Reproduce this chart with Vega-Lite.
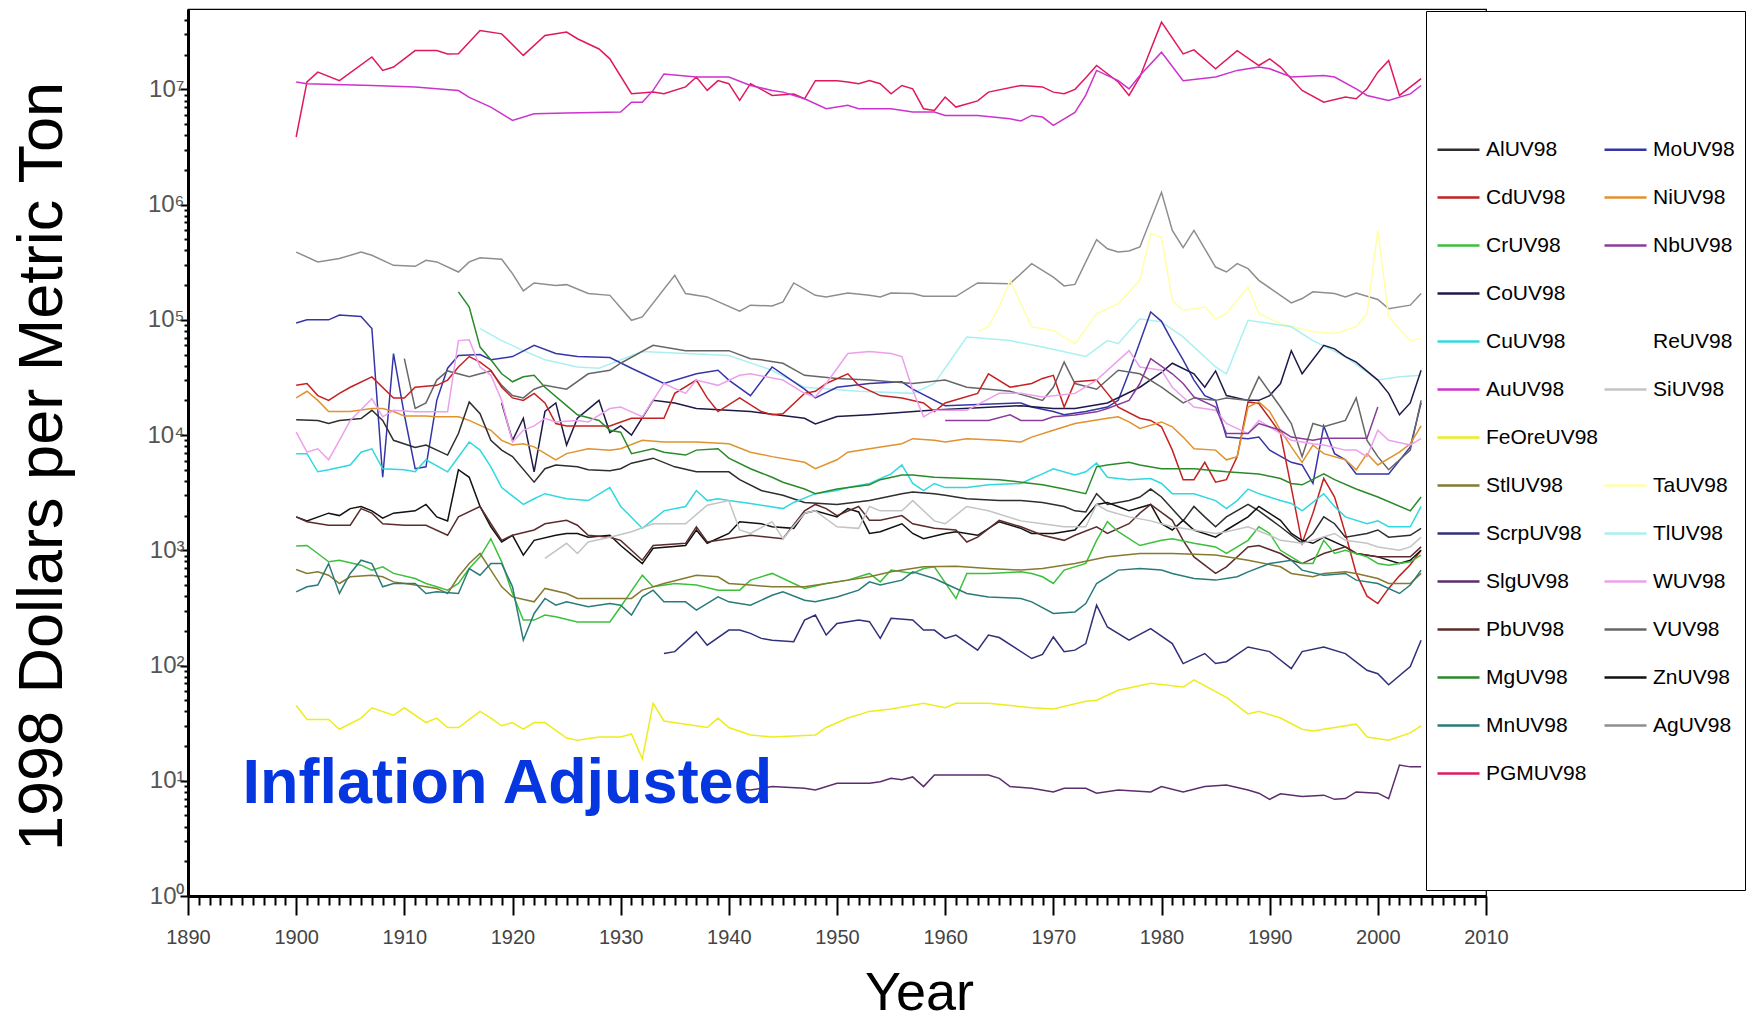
{
"$schema":"https://vega.github.io/schema/vega-lite/v6.json",
"width":1298,"height":887,"autosize":"none",
"padding":{"left":188,"top":9,"right":264,"bottom":126},
"background":"white",
"config":{"font":"Liberation Sans","view":{"stroke":"black","strokeWidth":1.2}},
"layer":[
{"data":{"values":[
{"s":"PGMUV98","yr":1900,"v":3.86e6},{"s":"PGMUV98","yr":1901,"v":1.16e7},{"s":"PGMUV98","yr":1902,"v":1.41e7},{"s":"PGMUV98","yr":1904,"v":1.19e7},{"s":"PGMUV98","yr":1907,"v":1.91e7},{"s":"PGMUV98","yr":1908,"v":1.46e7},{"s":"PGMUV98","yr":1909,"v":1.56e7},{"s":"PGMUV98","yr":1911,"v":2.17e7},{"s":"PGMUV98","yr":1913,"v":2.17e7},{"s":"PGMUV98","yr":1914,"v":2.03e7},{"s":"PGMUV98","yr":1915,"v":2.04e7},{"s":"PGMUV98","yr":1917,"v":3.24e7},{"s":"PGMUV98","yr":1919,"v":3.03e7},{"s":"PGMUV98","yr":1921,"v":1.97e7},{"s":"PGMUV98","yr":1923,"v":2.93e7},{"s":"PGMUV98","yr":1925,"v":3.14e7},{"s":"PGMUV98","yr":1926,"v":2.75e7},{"s":"PGMUV98","yr":1928,"v":2.24e7},{"s":"PGMUV98","yr":1929,"v":1.84e7},{"s":"PGMUV98","yr":1931,"v":9.16e6},{"s":"PGMUV98","yr":1933,"v":9.46e6},{"s":"PGMUV98","yr":1934,"v":9.16e6},{"s":"PGMUV98","yr":1936,"v":1.05e7},{"s":"PGMUV98","yr":1937,"v":1.28e7},{"s":"PGMUV98","yr":1938,"v":9.79e6},{"s":"PGMUV98","yr":1939,"v":1.19e7},{"s":"PGMUV98","yr":1940,"v":1.12e7},{"s":"PGMUV98","yr":1941,"v":8.02e6},{"s":"PGMUV98","yr":1942,"v":1.12e7},{"s":"PGMUV98","yr":1943,"v":1.0e7},{"s":"PGMUV98","yr":1944,"v":8.85e6},{"s":"PGMUV98","yr":1946,"v":9.12e6},{"s":"PGMUV98","yr":1947,"v":8.28e6},{"s":"PGMUV98","yr":1948,"v":1.19e7},{"s":"PGMUV98","yr":1950,"v":1.19e7},{"s":"PGMUV98","yr":1951,"v":1.16e7},{"s":"PGMUV98","yr":1952,"v":1.12e7},{"s":"PGMUV98","yr":1953,"v":1.19e7},{"s":"PGMUV98","yr":1954,"v":1.12e7},{"s":"PGMUV98","yr":1955,"v":9.16e6},{"s":"PGMUV98","yr":1956,"v":1.08e7},{"s":"PGMUV98","yr":1957,"v":1.01e7},{"s":"PGMUV98","yr":1958,"v":6.79e6},{"s":"PGMUV98","yr":1959,"v":6.56e6},{"s":"PGMUV98","yr":1960,"v":8.57e6},{"s":"PGMUV98","yr":1961,"v":7.02e6},{"s":"PGMUV98","yr":1963,"v":7.94e6},{"s":"PGMUV98","yr":1964,"v":9.46e6},{"s":"PGMUV98","yr":1967,"v":1.08e7},{"s":"PGMUV98","yr":1969,"v":1.05e7},{"s":"PGMUV98","yr":1970,"v":9.46e6},{"s":"PGMUV98","yr":1971,"v":9.16e6},{"s":"PGMUV98","yr":1972,"v":1.0e7},{"s":"PGMUV98","yr":1973,"v":1.26e7},{"s":"PGMUV98","yr":1974,"v":1.61e7},{"s":"PGMUV98","yr":1976,"v":1.16e7},{"s":"PGMUV98","yr":1977,"v":8.85e6},{"s":"PGMUV98","yr":1978,"v":1.28e7},{"s":"PGMUV98","yr":1980,"v":3.83e7},{"s":"PGMUV98","yr":1982,"v":2.03e7},{"s":"PGMUV98","yr":1983,"v":2.2e7},{"s":"PGMUV98","yr":1985,"v":1.51e7},{"s":"PGMUV98","yr":1987,"v":2.17e7},{"s":"PGMUV98","yr":1989,"v":1.61e7},{"s":"PGMUV98","yr":1990,"v":1.84e7},{"s":"PGMUV98","yr":1991,"v":1.56e7},{"s":"PGMUV98","yr":1993,"v":9.77e6},{"s":"PGMUV98","yr":1995,"v":7.74e6},{"s":"PGMUV98","yr":1997,"v":8.57e6},{"s":"PGMUV98","yr":1998,"v":8.28e6},{"s":"PGMUV98","yr":1999,"v":1.01e7},{"s":"PGMUV98","yr":2000,"v":1.41e7},{"s":"PGMUV98","yr":2001,"v":1.78e7},{"s":"PGMUV98","yr":2002,"v":8.85e6},{"s":"PGMUV98","yr":2004,"v":1.24e7},
{"s":"AuUV98","yr":1900,"v":1.16e7},{"s":"AuUV98","yr":1901,"v":1.12e7},{"s":"AuUV98","yr":1907,"v":1.08e7},{"s":"AuUV98","yr":1911,"v":1.05e7},{"s":"AuUV98","yr":1915,"v":9.77e6},{"s":"AuUV98","yr":1916,"v":8.51e6},{"s":"AuUV98","yr":1918,"v":7.02e6},{"s":"AuUV98","yr":1920,"v":5.37e6},{"s":"AuUV98","yr":1922,"v":6.14e6},{"s":"AuUV98","yr":1925,"v":6.22e6},{"s":"AuUV98","yr":1930,"v":6.35e6},{"s":"AuUV98","yr":1931,"v":7.74e6},{"s":"AuUV98","yr":1932,"v":7.74e6},{"s":"AuUV98","yr":1933,"v":9.79e6},{"s":"AuUV98","yr":1934,"v":1.36e7},{"s":"AuUV98","yr":1937,"v":1.28e7},{"s":"AuUV98","yr":1940,"v":1.28e7},{"s":"AuUV98","yr":1942,"v":1.08e7},{"s":"AuUV98","yr":1944,"v":9.79e6},{"s":"AuUV98","yr":1945,"v":9.46e6},{"s":"AuUV98","yr":1947,"v":8.28e6},{"s":"AuUV98","yr":1949,"v":6.79e6},{"s":"AuUV98","yr":1951,"v":7.26e6},{"s":"AuUV98","yr":1952,"v":6.79e6},{"s":"AuUV98","yr":1955,"v":6.79e6},{"s":"AuUV98","yr":1957,"v":6.35e6},{"s":"AuUV98","yr":1959,"v":6.35e6},{"s":"AuUV98","yr":1960,"v":5.94e6},{"s":"AuUV98","yr":1963,"v":5.94e6},{"s":"AuUV98","yr":1966,"v":5.56e6},{"s":"AuUV98","yr":1967,"v":5.31e6},{"s":"AuUV98","yr":1968,"v":5.94e6},{"s":"AuUV98","yr":1969,"v":5.75e6},{"s":"AuUV98","yr":1970,"v":4.86e6},{"s":"AuUV98","yr":1972,"v":6.31e6},{"s":"AuUV98","yr":1973,"v":8.91e6},{"s":"AuUV98","yr":1974,"v":1.46e7},{"s":"AuUV98","yr":1976,"v":1.19e7},{"s":"AuUV98","yr":1977,"v":1.01e7},{"s":"AuUV98","yr":1978,"v":1.32e7},{"s":"AuUV98","yr":1980,"v":2.1e7},{"s":"AuUV98","yr":1982,"v":1.19e7},{"s":"AuUV98","yr":1985,"v":1.28e7},{"s":"AuUV98","yr":1987,"v":1.46e7},{"s":"AuUV98","yr":1989,"v":1.56e7},{"s":"AuUV98","yr":1990,"v":1.51e7},{"s":"AuUV98","yr":1992,"v":1.28e7},{"s":"AuUV98","yr":1995,"v":1.32e7},{"s":"AuUV98","yr":1996,"v":1.28e7},{"s":"AuUV98","yr":1998,"v":1.01e7},{"s":"AuUV98","yr":1999,"v":8.85e6},{"s":"AuUV98","yr":2001,"v":8.02e6},{"s":"AuUV98","yr":2003,"v":9.14e6},{"s":"AuUV98","yr":2004,"v":1.08e7},
{"s":"AgUV98","yr":1900,"v":3.87e5},{"s":"AgUV98","yr":1902,"v":3.18e5},{"s":"AgUV98","yr":1904,"v":3.4e5},{"s":"AgUV98","yr":1906,"v":3.87e5},{"s":"AgUV98","yr":1907,"v":3.63e5},{"s":"AgUV98","yr":1909,"v":2.97e5},{"s":"AgUV98","yr":1911,"v":2.91e5},{"s":"AgUV98","yr":1912,"v":3.28e5},{"s":"AgUV98","yr":1913,"v":3.18e5},{"s":"AgUV98","yr":1915,"v":2.6e5},{"s":"AgUV98","yr":1916,"v":3.18e5},{"s":"AgUV98","yr":1917,"v":3.46e5},{"s":"AgUV98","yr":1919,"v":3.35e5},{"s":"AgUV98","yr":1920,"v":2.52e5},{"s":"AgUV98","yr":1921,"v":1.78e5},{"s":"AgUV98","yr":1922,"v":2.09e5},{"s":"AgUV98","yr":1924,"v":1.99e5},{"s":"AgUV98","yr":1925,"v":2.02e5},{"s":"AgUV98","yr":1927,"v":1.69e5},{"s":"AgUV98","yr":1929,"v":1.63e5},{"s":"AgUV98","yr":1931,"v":9.9e4},{"s":"AgUV98","yr":1932,"v":1.06e5},{"s":"AgUV98","yr":1935,"v":2.43e5},{"s":"AgUV98","yr":1936,"v":1.69e5},{"s":"AgUV98","yr":1938,"v":1.58e5},{"s":"AgUV98","yr":1941,"v":1.19e5},{"s":"AgUV98","yr":1942,"v":1.34e5},{"s":"AgUV98","yr":1944,"v":1.32e5},{"s":"AgUV98","yr":1945,"v":1.43e5},{"s":"AgUV98","yr":1946,"v":2.09e5},{"s":"AgUV98","yr":1948,"v":1.63e5},{"s":"AgUV98","yr":1949,"v":1.58e5},{"s":"AgUV98","yr":1951,"v":1.71e5},{"s":"AgUV98","yr":1953,"v":1.63e5},{"s":"AgUV98","yr":1954,"v":1.58e5},{"s":"AgUV98","yr":1955,"v":1.71e5},{"s":"AgUV98","yr":1957,"v":1.69e5},{"s":"AgUV98","yr":1958,"v":1.6e5},{"s":"AgUV98","yr":1961,"v":1.6e5},{"s":"AgUV98","yr":1963,"v":2.09e5},{"s":"AgUV98","yr":1966,"v":2.06e5},{"s":"AgUV98","yr":1968,"v":3.07e5},{"s":"AgUV98","yr":1970,"v":2.35e5},{"s":"AgUV98","yr":1971,"v":1.97e5},{"s":"AgUV98","yr":1972,"v":2.03e5},{"s":"AgUV98","yr":1974,"v":4.97e5},{"s":"AgUV98","yr":1975,"v":4.14e5},{"s":"AgUV98","yr":1976,"v":3.88e5},{"s":"AgUV98","yr":1977,"v":3.95e5},{"s":"AgUV98","yr":1978,"v":4.29e5},{"s":"AgUV98","yr":1980,"v":1.28e6},{"s":"AgUV98","yr":1981,"v":5.97e5},{"s":"AgUV98","yr":1982,"v":4.23e5},{"s":"AgUV98","yr":1983,"v":5.97e5},{"s":"AgUV98","yr":1985,"v":2.87e5},{"s":"AgUV98","yr":1986,"v":2.6e5},{"s":"AgUV98","yr":1987,"v":3.07e5},{"s":"AgUV98","yr":1988,"v":2.78e5},{"s":"AgUV98","yr":1989,"v":2.2e5},{"s":"AgUV98","yr":1992,"v":1.4e5},{"s":"AgUV98","yr":1993,"v":1.53e5},{"s":"AgUV98","yr":1994,"v":1.75e5},{"s":"AgUV98","yr":1996,"v":1.69e5},{"s":"AgUV98","yr":1997,"v":1.58e5},{"s":"AgUV98","yr":1998,"v":1.71e5},{"s":"AgUV98","yr":2000,"v":1.5e5},{"s":"AgUV98","yr":2001,"v":1.25e5},{"s":"AgUV98","yr":2003,"v":1.34e5},{"s":"AgUV98","yr":2004,"v":1.69e5},
{"s":"TaUV98","yr":1963,"v":7.9e4},{"s":"TaUV98","yr":1964,"v":8.7e4},{"s":"TaUV98","yr":1965,"v":1.3e5},{"s":"TaUV98","yr":1966,"v":2.2e5},{"s":"TaUV98","yr":1968,"v":8.7e4},{"s":"TaUV98","yr":1970,"v":8.1e4},{"s":"TaUV98","yr":1972,"v":6.2e4},{"s":"TaUV98","yr":1974,"v":1.13e5},{"s":"TaUV98","yr":1976,"v":1.38e5},{"s":"TaUV98","yr":1978,"v":2.2e5},{"s":"TaUV98","yr":1979,"v":5.6e5},{"s":"TaUV98","yr":1980,"v":5.2e5},{"s":"TaUV98","yr":1981,"v":1.48e5},{"s":"TaUV98","yr":1982,"v":1.21e5},{"s":"TaUV98","yr":1984,"v":1.29e5},{"s":"TaUV98","yr":1985,"v":1.02e5},{"s":"TaUV98","yr":1986,"v":1.13e5},{"s":"TaUV98","yr":1987,"v":1.48e5},{"s":"TaUV98","yr":1988,"v":1.93e5},{"s":"TaUV98","yr":1989,"v":1.13e5},{"s":"TaUV98","yr":1991,"v":9.3e4},{"s":"TaUV98","yr":1994,"v":7.9e4},{"s":"TaUV98","yr":1996,"v":7.6e4},{"s":"TaUV98","yr":1998,"v":8.7e4},{"s":"TaUV98","yr":1999,"v":1.13e5},{"s":"TaUV98","yr":2000,"v":6.0e5},{"s":"TaUV98","yr":2001,"v":1.06e5},{"s":"TaUV98","yr":2003,"v":6.6e4},{"s":"TaUV98","yr":2004,"v":6.9e4},
{"s":"TlUV98","yr":1917,"v":8.4e4},{"s":"TlUV98","yr":1919,"v":6.6e4},{"s":"TlUV98","yr":1921,"v":5.4e4},{"s":"TlUV98","yr":1923,"v":4.5e4},{"s":"TlUV98","yr":1926,"v":3.9e4},{"s":"TlUV98","yr":1928,"v":3.8e4},{"s":"TlUV98","yr":1932,"v":5.3e4},{"s":"TlUV98","yr":1940,"v":4.9e4},{"s":"TlUV98","yr":1944,"v":3.65e4},{"s":"TlUV98","yr":1947,"v":2.6e4},{"s":"TlUV98","yr":1952,"v":2.4e4},{"s":"TlUV98","yr":1957,"v":2.3e4},{"s":"TlUV98","yr":1959,"v":2.8e4},{"s":"TlUV98","yr":1962,"v":7.1e4},{"s":"TlUV98","yr":1966,"v":6.6e4},{"s":"TlUV98","yr":1969,"v":5.8e4},{"s":"TlUV98","yr":1973,"v":4.8e4},{"s":"TlUV98","yr":1975,"v":6.6e4},{"s":"TlUV98","yr":1976,"v":6.2e4},{"s":"TlUV98","yr":1978,"v":1.02e5},{"s":"TlUV98","yr":1980,"v":9.6e4},{"s":"TlUV98","yr":1982,"v":7.1e4},{"s":"TlUV98","yr":1985,"v":3.9e4},{"s":"TlUV98","yr":1986,"v":3.4e4},{"s":"TlUV98","yr":1988,"v":9.9e4},{"s":"TlUV98","yr":1990,"v":9.3e4},{"s":"TlUV98","yr":1992,"v":8.7e4},{"s":"TlUV98","yr":1994,"v":6.6e4},{"s":"TlUV98","yr":1997,"v":4.8e4},{"s":"TlUV98","yr":2000,"v":3.0e4},{"s":"TlUV98","yr":2002,"v":3.2e4},{"s":"TlUV98","yr":2004,"v":3.3e4},
{"s":"MoUV98","yr":1900,"v":9.4e4},{"s":"MoUV98","yr":1901,"v":1.0e5},{"s":"MoUV98","yr":1903,"v":1.0e5},{"s":"MoUV98","yr":1904,"v":1.1e5},{"s":"MoUV98","yr":1906,"v":1.07e5},{"s":"MoUV98","yr":1907,"v":8.4e4},{"s":"MoUV98","yr":1908,"v":4.3e3},{"s":"MoUV98","yr":1909,"v":5.1e4},{"s":"MoUV98","yr":1910,"v":1.5e4},{"s":"MoUV98","yr":1911,"v":5.1e3},{"s":"MoUV98","yr":1912,"v":5.3e3},{"s":"MoUV98","yr":1913,"v":2.0e4},{"s":"MoUV98","yr":1914,"v":3.8e4},{"s":"MoUV98","yr":1915,"v":4.9e4},{"s":"MoUV98","yr":1917,"v":5.0e4},{"s":"MoUV98","yr":1918,"v":4.5e4},{"s":"MoUV98","yr":1920,"v":4.8e4},{"s":"MoUV98","yr":1922,"v":6.0e4},{"s":"MoUV98","yr":1924,"v":5.1e4},{"s":"MoUV98","yr":1926,"v":4.8e4},{"s":"MoUV98","yr":1929,"v":4.7e4},{"s":"MoUV98","yr":1931,"v":3.8e4},{"s":"MoUV98","yr":1934,"v":2.8e4},{"s":"MoUV98","yr":1937,"v":3.4e4},{"s":"MoUV98","yr":1939,"v":3.65e4},{"s":"MoUV98","yr":1940,"v":3.0e4},{"s":"MoUV98","yr":1942,"v":2.2e4},{"s":"MoUV98","yr":1944,"v":3.9e4},{"s":"MoUV98","yr":1947,"v":2.5e4},{"s":"MoUV98","yr":1948,"v":2.1e4},{"s":"MoUV98","yr":1950,"v":2.6e4},{"s":"MoUV98","yr":1953,"v":2.8e4},{"s":"MoUV98","yr":1956,"v":2.9e4},{"s":"MoUV98","yr":1957,"v":2.5e4},{"s":"MoUV98","yr":1960,"v":1.8e4},{"s":"MoUV98","yr":1967,"v":1.9e4},{"s":"MoUV98","yr":1968,"v":1.75e4},{"s":"MoUV98","yr":1970,"v":1.6e4},{"s":"MoUV98","yr":1971,"v":1.5e4},{"s":"MoUV98","yr":1973,"v":1.6e4},{"s":"MoUV98","yr":1975,"v":1.75e4},{"s":"MoUV98","yr":1976,"v":2.0e4},{"s":"MoUV98","yr":1977,"v":3.5e4},{"s":"MoUV98","yr":1979,"v":1.17e5},{"s":"MoUV98","yr":1980,"v":9.7e4},{"s":"MoUV98","yr":1981,"v":6.5e4},{"s":"MoUV98","yr":1982,"v":4.5e4},{"s":"MoUV98","yr":1983,"v":3.0e4},{"s":"MoUV98","yr":1984,"v":2.2e4},{"s":"MoUV98","yr":1985,"v":2.0e4},{"s":"MoUV98","yr":1986,"v":9.6e3},{"s":"MoUV98","yr":1988,"v":9.3e3},{"s":"MoUV98","yr":1989,"v":9.6e3},{"s":"MoUV98","yr":1990,"v":7.4e3},{"s":"MoUV98","yr":1992,"v":5.8e3},{"s":"MoUV98","yr":1993,"v":5.5e3},{"s":"MoUV98","yr":1994,"v":3.8e3},{"s":"MoUV98","yr":1995,"v":1.2e4},{"s":"MoUV98","yr":1996,"v":6.9e3},{"s":"MoUV98","yr":1997,"v":6.1e3},{"s":"MoUV98","yr":1998,"v":4.6e3},{"s":"MoUV98","yr":2000,"v":4.6e3},{"s":"MoUV98","yr":2001,"v":4.6e3},{"s":"MoUV98","yr":2003,"v":7.9e3},{"s":"MoUV98","yr":2004,"v":1.9e4},
{"s":"CoUV98","yr":1919,"v":1.9e4},{"s":"CoUV98","yr":1920,"v":9.0e3},{"s":"CoUV98","yr":1921,"v":1.4e4},{"s":"CoUV98","yr":1922,"v":4.8e3},{"s":"CoUV98","yr":1923,"v":1.6e4},{"s":"CoUV98","yr":1924,"v":1.9e4},{"s":"CoUV98","yr":1925,"v":8.2e3},{"s":"CoUV98","yr":1926,"v":1.4e4},{"s":"CoUV98","yr":1928,"v":2.0e4},{"s":"CoUV98","yr":1929,"v":1.05e4},{"s":"CoUV98","yr":1930,"v":1.2e4},{"s":"CoUV98","yr":1931,"v":1.0e4},{"s":"CoUV98","yr":1933,"v":2.0e4},{"s":"CoUV98","yr":1935,"v":1.9e4},{"s":"CoUV98","yr":1937,"v":1.7e4},{"s":"CoUV98","yr":1942,"v":1.6e4},{"s":"CoUV98","yr":1947,"v":1.4e4},{"s":"CoUV98","yr":1948,"v":1.25e4},{"s":"CoUV98","yr":1950,"v":1.45e4},{"s":"CoUV98","yr":1953,"v":1.5e4},{"s":"CoUV98","yr":1959,"v":1.65e4},{"s":"CoUV98","yr":1967,"v":1.8e4},{"s":"CoUV98","yr":1970,"v":1.7e4},{"s":"CoUV98","yr":1972,"v":1.7e4},{"s":"CoUV98","yr":1975,"v":1.9e4},{"s":"CoUV98","yr":1978,"v":2.6e4},{"s":"CoUV98","yr":1980,"v":3.5e4},{"s":"CoUV98","yr":1981,"v":4.2e4},{"s":"CoUV98","yr":1983,"v":3.4e4},{"s":"CoUV98","yr":1984,"v":2.6e4},{"s":"CoUV98","yr":1985,"v":3.6e4},{"s":"CoUV98","yr":1986,"v":2.2e4},{"s":"CoUV98","yr":1988,"v":2.0e4},{"s":"CoUV98","yr":1989,"v":2.0e4},{"s":"CoUV98","yr":1990,"v":2.2e4},{"s":"CoUV98","yr":1991,"v":2.8e4},{"s":"CoUV98","yr":1992,"v":5.4e4},{"s":"CoUV98","yr":1993,"v":3.4e4},{"s":"CoUV98","yr":1995,"v":6.0e4},{"s":"CoUV98","yr":1996,"v":5.6e4},{"s":"CoUV98","yr":1997,"v":4.8e4},{"s":"CoUV98","yr":1998,"v":4.3e4},{"s":"CoUV98","yr":2000,"v":3.0e4},{"s":"CoUV98","yr":2001,"v":2.3e4},{"s":"CoUV98","yr":2002,"v":1.5e4},{"s":"CoUV98","yr":2003,"v":1.9e4},{"s":"CoUV98","yr":2004,"v":3.65e4},
{"s":"VUV98","yr":1910,"v":4.6e4},{"s":"VUV98","yr":1911,"v":1.7e4},{"s":"VUV98","yr":1912,"v":1.9e4},{"s":"VUV98","yr":1913,"v":3.0e4},{"s":"VUV98","yr":1914,"v":3.6e4},{"s":"VUV98","yr":1916,"v":3.2e4},{"s":"VUV98","yr":1917,"v":3.4e4},{"s":"VUV98","yr":1918,"v":3.6e4},{"s":"VUV98","yr":1919,"v":2.7e4},{"s":"VUV98","yr":1920,"v":2.2e4},{"s":"VUV98","yr":1921,"v":2.1e4},{"s":"VUV98","yr":1922,"v":2.5e4},{"s":"VUV98","yr":1923,"v":2.7e4},{"s":"VUV98","yr":1925,"v":2.5e4},{"s":"VUV98","yr":1927,"v":3.4e4},{"s":"VUV98","yr":1929,"v":3.65e4},{"s":"VUV98","yr":1930,"v":4.2e4},{"s":"VUV98","yr":1933,"v":6.0e4},{"s":"VUV98","yr":1936,"v":5.4e4},{"s":"VUV98","yr":1940,"v":5.4e4},{"s":"VUV98","yr":1942,"v":4.6e4},{"s":"VUV98","yr":1943,"v":4.5e4},{"s":"VUV98","yr":1945,"v":4.2e4},{"s":"VUV98","yr":1947,"v":3.3e4},{"s":"VUV98","yr":1950,"v":3.1e4},{"s":"VUV98","yr":1953,"v":3.0e4},{"s":"VUV98","yr":1957,"v":2.8e4},{"s":"VUV98","yr":1960,"v":3.0e4},{"s":"VUV98","yr":1962,"v":2.6e4},{"s":"VUV98","yr":1966,"v":2.4e4},{"s":"VUV98","yr":1969,"v":2.0e4},{"s":"VUV98","yr":1970,"v":2.6e4},{"s":"VUV98","yr":1971,"v":4.3e4},{"s":"VUV98","yr":1972,"v":2.8e4},{"s":"VUV98","yr":1974,"v":2.5e4},{"s":"VUV98","yr":1976,"v":3.65e4},{"s":"VUV98","yr":1978,"v":3.4e4},{"s":"VUV98","yr":1980,"v":2.6e4},{"s":"VUV98","yr":1982,"v":1.9e4},{"s":"VUV98","yr":1983,"v":2.1e4},{"s":"VUV98","yr":1985,"v":2.0e4},{"s":"VUV98","yr":1986,"v":2.1e4},{"s":"VUV98","yr":1988,"v":2.0e4},{"s":"VUV98","yr":1989,"v":3.2e4},{"s":"VUV98","yr":1991,"v":1.75e4},{"s":"VUV98","yr":1992,"v":1.26e4},{"s":"VUV98","yr":1993,"v":6.5e3},{"s":"VUV98","yr":1994,"v":1.26e4},{"s":"VUV98","yr":1995,"v":1.18e4},{"s":"VUV98","yr":1997,"v":1.34e4},{"s":"VUV98","yr":1998,"v":2.1e4},{"s":"VUV98","yr":1999,"v":9.0e3},{"s":"VUV98","yr":2000,"v":6.5e3},{"s":"VUV98","yr":2001,"v":5.0e3},{"s":"VUV98","yr":2003,"v":7.4e3},{"s":"VUV98","yr":2004,"v":2.0e4},
{"s":"CdUV98","yr":1900,"v":2.7e4},{"s":"CdUV98","yr":1901,"v":2.8e4},{"s":"CdUV98","yr":1902,"v":2.2e4},{"s":"CdUV98","yr":1903,"v":2.0e4},{"s":"CdUV98","yr":1904,"v":2.3e4},{"s":"CdUV98","yr":1905,"v":2.6e4},{"s":"CdUV98","yr":1907,"v":3.2e4},{"s":"CdUV98","yr":1909,"v":2.1e4},{"s":"CdUV98","yr":1910,"v":2.1e4},{"s":"CdUV98","yr":1911,"v":2.6e4},{"s":"CdUV98","yr":1913,"v":2.7e4},{"s":"CdUV98","yr":1914,"v":3.0e4},{"s":"CdUV98","yr":1915,"v":3.9e4},{"s":"CdUV98","yr":1916,"v":4.8e4},{"s":"CdUV98","yr":1917,"v":4.3e4},{"s":"CdUV98","yr":1918,"v":3.65e4},{"s":"CdUV98","yr":1919,"v":2.6e4},{"s":"CdUV98","yr":1920,"v":2.1e4},{"s":"CdUV98","yr":1921,"v":2.0e4},{"s":"CdUV98","yr":1922,"v":2.3e4},{"s":"CdUV98","yr":1923,"v":1.9e4},{"s":"CdUV98","yr":1924,"v":1.26e4},{"s":"CdUV98","yr":1925,"v":1.2e4},{"s":"CdUV98","yr":1929,"v":1.2e4},{"s":"CdUV98","yr":1931,"v":1.4e4},{"s":"CdUV98","yr":1934,"v":1.4e4},{"s":"CdUV98","yr":1935,"v":2.3e4},{"s":"CdUV98","yr":1937,"v":3.0e4},{"s":"CdUV98","yr":1938,"v":2.1e4},{"s":"CdUV98","yr":1939,"v":1.6e4},{"s":"CdUV98","yr":1941,"v":2.1e4},{"s":"CdUV98","yr":1943,"v":1.6e4},{"s":"CdUV98","yr":1944,"v":1.5e4},{"s":"CdUV98","yr":1945,"v":1.53e4},{"s":"CdUV98","yr":1947,"v":2.3e4},{"s":"CdUV98","yr":1948,"v":2.4e4},{"s":"CdUV98","yr":1949,"v":2.8e4},{"s":"CdUV98","yr":1951,"v":3.4e4},{"s":"CdUV98","yr":1952,"v":2.7e4},{"s":"CdUV98","yr":1954,"v":2.2e4},{"s":"CdUV98","yr":1956,"v":2.1e4},{"s":"CdUV98","yr":1958,"v":1.9e4},{"s":"CdUV98","yr":1959,"v":1.6e4},{"s":"CdUV98","yr":1960,"v":1.9e4},{"s":"CdUV98","yr":1963,"v":2.3e4},{"s":"CdUV98","yr":1964,"v":3.4e4},{"s":"CdUV98","yr":1966,"v":2.6e4},{"s":"CdUV98","yr":1968,"v":2.8e4},{"s":"CdUV98","yr":1969,"v":3.1e4},{"s":"CdUV98","yr":1970,"v":3.3e4},{"s":"CdUV98","yr":1971,"v":1.75e4},{"s":"CdUV98","yr":1972,"v":2.9e4},{"s":"CdUV98","yr":1974,"v":3.0e4},{"s":"CdUV98","yr":1975,"v":2.3e4},{"s":"CdUV98","yr":1976,"v":1.75e4},{"s":"CdUV98","yr":1978,"v":1.4e4},{"s":"CdUV98","yr":1979,"v":1.34e4},{"s":"CdUV98","yr":1980,"v":1.18e4},{"s":"CdUV98","yr":1981,"v":7.4e3},{"s":"CdUV98","yr":1982,"v":4.1e3},{"s":"CdUV98","yr":1983,"v":4.1e3},{"s":"CdUV98","yr":1984,"v":5.8e3},{"s":"CdUV98","yr":1985,"v":3.9e3},{"s":"CdUV98","yr":1986,"v":4.1e3},{"s":"CdUV98","yr":1987,"v":6.5e3},{"s":"CdUV98","yr":1988,"v":1.94e4},{"s":"CdUV98","yr":1989,"v":1.88e4},{"s":"CdUV98","yr":1990,"v":1.4e4},{"s":"CdUV98","yr":1991,"v":1.03e4},{"s":"CdUV98","yr":1992,"v":3.5e3},{"s":"CdUV98","yr":1993,"v":1.15e3},{"s":"CdUV98","yr":1994,"v":2.1e3},{"s":"CdUV98","yr":1995,"v":4.2e3},{"s":"CdUV98","yr":1996,"v":2.9e3},{"s":"CdUV98","yr":1997,"v":1.4e3},{"s":"CdUV98","yr":1998,"v":630},{"s":"CdUV98","yr":1999,"v":400},{"s":"CdUV98","yr":2000,"v":345},{"s":"CdUV98","yr":2001,"v":467},{"s":"CdUV98","yr":2002,"v":600},{"s":"CdUV98","yr":2003,"v":750},{"s":"CdUV98","yr":2004,"v":1000},
{"s":"NiUV98","yr":1900,"v":2.1e4},{"s":"NiUV98","yr":1901,"v":2.4e4},{"s":"NiUV98","yr":1902,"v":2.0e4},{"s":"NiUV98","yr":1903,"v":1.6e4},{"s":"NiUV98","yr":1905,"v":1.6e4},{"s":"NiUV98","yr":1907,"v":1.7e4},{"s":"NiUV98","yr":1908,"v":1.7e4},{"s":"NiUV98","yr":1909,"v":1.6e4},{"s":"NiUV98","yr":1910,"v":1.46e4},{"s":"NiUV98","yr":1912,"v":1.46e4},{"s":"NiUV98","yr":1913,"v":1.44e4},{"s":"NiUV98","yr":1915,"v":1.44e4},{"s":"NiUV98","yr":1916,"v":1.34e4},{"s":"NiUV98","yr":1918,"v":1.1e4},{"s":"NiUV98","yr":1919,"v":9.0e3},{"s":"NiUV98","yr":1920,"v":8.2e3},{"s":"NiUV98","yr":1921,"v":8.4e3},{"s":"NiUV98","yr":1922,"v":7.9e3},{"s":"NiUV98","yr":1924,"v":6.1e3},{"s":"NiUV98","yr":1925,"v":6.9e3},{"s":"NiUV98","yr":1927,"v":7.6e3},{"s":"NiUV98","yr":1929,"v":7.4e3},{"s":"NiUV98","yr":1930,"v":7.6e3},{"s":"NiUV98","yr":1932,"v":9.0e3},{"s":"NiUV98","yr":1934,"v":8.7e3},{"s":"NiUV98","yr":1937,"v":8.7e3},{"s":"NiUV98","yr":1940,"v":8.4e3},{"s":"NiUV98","yr":1942,"v":7.1e3},{"s":"NiUV98","yr":1944,"v":6.5e3},{"s":"NiUV98","yr":1947,"v":5.8e3},{"s":"NiUV98","yr":1948,"v":5.1e3},{"s":"NiUV98","yr":1950,"v":6.1e3},{"s":"NiUV98","yr":1951,"v":7.1e3},{"s":"NiUV98","yr":1953,"v":7.6e3},{"s":"NiUV98","yr":1956,"v":8.4e3},{"s":"NiUV98","yr":1957,"v":9.3e3},{"s":"NiUV98","yr":1959,"v":9.0e3},{"s":"NiUV98","yr":1960,"v":8.7e3},{"s":"NiUV98","yr":1962,"v":9.3e3},{"s":"NiUV98","yr":1965,"v":9.0e3},{"s":"NiUV98","yr":1967,"v":8.7e3},{"s":"NiUV98","yr":1968,"v":9.6e3},{"s":"NiUV98","yr":1970,"v":1.1e4},{"s":"NiUV98","yr":1972,"v":1.26e4},{"s":"NiUV98","yr":1975,"v":1.4e4},{"s":"NiUV98","yr":1976,"v":1.44e4},{"s":"NiUV98","yr":1977,"v":1.3e4},{"s":"NiUV98","yr":1978,"v":1.14e4},{"s":"NiUV98","yr":1980,"v":1.3e4},{"s":"NiUV98","yr":1981,"v":1.18e4},{"s":"NiUV98","yr":1982,"v":9.6e3},{"s":"NiUV98","yr":1983,"v":7.6e3},{"s":"NiUV98","yr":1985,"v":7.4e3},{"s":"NiUV98","yr":1986,"v":6.1e3},{"s":"NiUV98","yr":1987,"v":6.5e3},{"s":"NiUV98","yr":1988,"v":1.75e4},{"s":"NiUV98","yr":1989,"v":1.94e4},{"s":"NiUV98","yr":1990,"v":1.6e4},{"s":"NiUV98","yr":1991,"v":1.1e4},{"s":"NiUV98","yr":1992,"v":7.9e3},{"s":"NiUV98","yr":1993,"v":5.8e3},{"s":"NiUV98","yr":1994,"v":8.2e3},{"s":"NiUV98","yr":1995,"v":6.9e3},{"s":"NiUV98","yr":1997,"v":6.1e3},{"s":"NiUV98","yr":1998,"v":5.0e3},{"s":"NiUV98","yr":1999,"v":6.9e3},{"s":"NiUV98","yr":2000,"v":5.5e3},{"s":"NiUV98","yr":2002,"v":7.1e3},{"s":"NiUV98","yr":2003,"v":8.4e3},{"s":"NiUV98","yr":2004,"v":1.2e4},
{"s":"AlUV98","yr":1900,"v":13600},{"s":"AlUV98","yr":1902,"v":13400},{"s":"AlUV98","yr":1903,"v":12600},{"s":"AlUV98","yr":1904,"v":13400},{"s":"AlUV98","yr":1906,"v":13900},{"s":"AlUV98","yr":1907,"v":16400},{"s":"AlUV98","yr":1908,"v":13400},{"s":"AlUV98","yr":1909,"v":9000},{"s":"AlUV98","yr":1911,"v":7800},{"s":"AlUV98","yr":1912,"v":8200},{"s":"AlUV98","yr":1914,"v":6700},{"s":"AlUV98","yr":1915,"v":10300},{"s":"AlUV98","yr":1916,"v":19400},{"s":"AlUV98","yr":1917,"v":15300},{"s":"AlUV98","yr":1918,"v":9000},{"s":"AlUV98","yr":1919,"v":7400},{"s":"AlUV98","yr":1920,"v":6500},{"s":"AlUV98","yr":1922,"v":3900},{"s":"AlUV98","yr":1923,"v":5100},{"s":"AlUV98","yr":1924,"v":5500},{"s":"AlUV98","yr":1926,"v":5300},{"s":"AlUV98","yr":1927,"v":5000},{"s":"AlUV98","yr":1929,"v":4900},{"s":"AlUV98","yr":1930,"v":5100},{"s":"AlUV98","yr":1931,"v":5700},{"s":"AlUV98","yr":1933,"v":6300},{"s":"AlUV98","yr":1935,"v":5300},{"s":"AlUV98","yr":1937,"v":4800},{"s":"AlUV98","yr":1940,"v":4800},{"s":"AlUV98","yr":1941,"v":4100},{"s":"AlUV98","yr":1943,"v":3300},{"s":"AlUV98","yr":1945,"v":3000},{"s":"AlUV98","yr":1947,"v":2600},{"s":"AlUV98","yr":1950,"v":2500},{"s":"AlUV98","yr":1953,"v":2700},{"s":"AlUV98","yr":1956,"v":3100},{"s":"AlUV98","yr":1957,"v":3200},{"s":"AlUV98","yr":1959,"v":3100},{"s":"AlUV98","yr":1960,"v":3000},{"s":"AlUV98","yr":1962,"v":2800},{"s":"AlUV98","yr":1965,"v":2700},{"s":"AlUV98","yr":1967,"v":2700},{"s":"AlUV98","yr":1969,"v":2600},{"s":"AlUV98","yr":1971,"v":2400},{"s":"AlUV98","yr":1972,"v":2200},{"s":"AlUV98","yr":1973,"v":2150},{"s":"AlUV98","yr":1974,"v":3100},{"s":"AlUV98","yr":1975,"v":2500},{"s":"AlUV98","yr":1977,"v":2700},{"s":"AlUV98","yr":1978,"v":2900},{"s":"AlUV98","yr":1979,"v":3400},{"s":"AlUV98","yr":1980,"v":2900},{"s":"AlUV98","yr":1982,"v":1800},{"s":"AlUV98","yr":1983,"v":2400},{"s":"AlUV98","yr":1984,"v":1950},{"s":"AlUV98","yr":1985,"v":1600},{"s":"AlUV98","yr":1986,"v":1950},{"s":"AlUV98","yr":1988,"v":2500},{"s":"AlUV98","yr":1989,"v":2200},{"s":"AlUV98","yr":1991,"v":1600},{"s":"AlUV98","yr":1992,"v":1350},{"s":"AlUV98","yr":1993,"v":1150},{"s":"AlUV98","yr":1994,"v":1400},{"s":"AlUV98","yr":1995,"v":1950},{"s":"AlUV98","yr":1996,"v":1700},{"s":"AlUV98","yr":1997,"v":1300},{"s":"AlUV98","yr":1999,"v":1400},{"s":"AlUV98","yr":2000,"v":1500},{"s":"AlUV98","yr":2001,"v":1300},{"s":"AlUV98","yr":2003,"v":1350},{"s":"AlUV98","yr":2004,"v":1550},
{"s":"ZnUV98","yr":1900,"v":1950},{"s":"ZnUV98","yr":1901,"v":1800},{"s":"ZnUV98","yr":1903,"v":2100},{"s":"ZnUV98","yr":1904,"v":2000},{"s":"ZnUV98","yr":1905,"v":2300},{"s":"ZnUV98","yr":1906,"v":2400},{"s":"ZnUV98","yr":1907,"v":2200},{"s":"ZnUV98","yr":1908,"v":1900},{"s":"ZnUV98","yr":1909,"v":2100},{"s":"ZnUV98","yr":1911,"v":2200},{"s":"ZnUV98","yr":1912,"v":2500},{"s":"ZnUV98","yr":1913,"v":1950},{"s":"ZnUV98","yr":1914,"v":1800},{"s":"ZnUV98","yr":1915,"v":5000},{"s":"ZnUV98","yr":1916,"v":4300},{"s":"ZnUV98","yr":1917,"v":2400},{"s":"ZnUV98","yr":1918,"v":1600},{"s":"ZnUV98","yr":1919,"v":1180},{"s":"ZnUV98","yr":1920,"v":1350},{"s":"ZnUV98","yr":1921,"v":908},{"s":"ZnUV98","yr":1922,"v":1220},{"s":"ZnUV98","yr":1924,"v":1350},{"s":"ZnUV98","yr":1925,"v":1400},{"s":"ZnUV98","yr":1926,"v":1400},{"s":"ZnUV98","yr":1927,"v":1300},{"s":"ZnUV98","yr":1929,"v":1350},{"s":"ZnUV98","yr":1930,"v":1100},{"s":"ZnUV98","yr":1932,"v":767},{"s":"ZnUV98","yr":1933,"v":1040},{"s":"ZnUV98","yr":1936,"v":1100},{"s":"ZnUV98","yr":1937,"v":1500},{"s":"ZnUV98","yr":1938,"v":1150},{"s":"ZnUV98","yr":1940,"v":1400},{"s":"ZnUV98","yr":1941,"v":1770},{"s":"ZnUV98","yr":1943,"v":1700},{"s":"ZnUV98","yr":1944,"v":1600},{"s":"ZnUV98","yr":1946,"v":1550},{"s":"ZnUV98","yr":1947,"v":2100},{"s":"ZnUV98","yr":1948,"v":2200},{"s":"ZnUV98","yr":1950,"v":1950},{"s":"ZnUV98","yr":1951,"v":2300},{"s":"ZnUV98","yr":1952,"v":2150},{"s":"ZnUV98","yr":1953,"v":1400},{"s":"ZnUV98","yr":1954,"v":1450},{"s":"ZnUV98","yr":1956,"v":1700},{"s":"ZnUV98","yr":1957,"v":1400},{"s":"ZnUV98","yr":1958,"v":1260},{"s":"ZnUV98","yr":1960,"v":1400},{"s":"ZnUV98","yr":1961,"v":1450},{"s":"ZnUV98","yr":1963,"v":1350},{"s":"ZnUV98","yr":1965,"v":1770},{"s":"ZnUV98","yr":1967,"v":1550},{"s":"ZnUV98","yr":1968,"v":1400},{"s":"ZnUV98","yr":1970,"v":1400},{"s":"ZnUV98","yr":1972,"v":1500},{"s":"ZnUV98","yr":1974,"v":2500},{"s":"ZnUV98","yr":1975,"v":2600},{"s":"ZnUV98","yr":1977,"v":2200},{"s":"ZnUV98","yr":1979,"v":2500},{"s":"ZnUV98","yr":1980,"v":1700},{"s":"ZnUV98","yr":1981,"v":1500},{"s":"ZnUV98","yr":1982,"v":1820},{"s":"ZnUV98","yr":1983,"v":1500},{"s":"ZnUV98","yr":1985,"v":1300},{"s":"ZnUV98","yr":1986,"v":1500},{"s":"ZnUV98","yr":1988,"v":1950},{"s":"ZnUV98","yr":1989,"v":2400},{"s":"ZnUV98","yr":1991,"v":1820},{"s":"ZnUV98","yr":1992,"v":1400},{"s":"ZnUV98","yr":1993,"v":1220},{"s":"ZnUV98","yr":1994,"v":1150},{"s":"ZnUV98","yr":1995,"v":1300},{"s":"ZnUV98","yr":1997,"v":1070},{"s":"ZnUV98","yr":1998,"v":938},{"s":"ZnUV98","yr":2000,"v":877},{"s":"ZnUV98","yr":2002,"v":767},{"s":"ZnUV98","yr":2003,"v":820},{"s":"ZnUV98","yr":2004,"v":1000},
{"s":"PbUV98","yr":1900,"v":1950},{"s":"PbUV98","yr":1901,"v":1770},{"s":"PbUV98","yr":1903,"v":1650},{"s":"PbUV98","yr":1905,"v":1650},{"s":"PbUV98","yr":1906,"v":2300},{"s":"PbUV98","yr":1907,"v":2100},{"s":"PbUV98","yr":1908,"v":1700},{"s":"PbUV98","yr":1910,"v":1650},{"s":"PbUV98","yr":1912,"v":1650},{"s":"PbUV98","yr":1914,"v":1350},{"s":"PbUV98","yr":1915,"v":1950},{"s":"PbUV98","yr":1917,"v":2400},{"s":"PbUV98","yr":1918,"v":1700},{"s":"PbUV98","yr":1919,"v":1220},{"s":"PbUV98","yr":1920,"v":1350},{"s":"PbUV98","yr":1922,"v":1500},{"s":"PbUV98","yr":1923,"v":1700},{"s":"PbUV98","yr":1925,"v":1820},{"s":"PbUV98","yr":1926,"v":1650},{"s":"PbUV98","yr":1927,"v":1350},{"s":"PbUV98","yr":1929,"v":1300},{"s":"PbUV98","yr":1930,"v":1220},{"s":"PbUV98","yr":1932,"v":820},{"s":"PbUV98","yr":1933,"v":1100},{"s":"PbUV98","yr":1936,"v":1150},{"s":"PbUV98","yr":1937,"v":1600},{"s":"PbUV98","yr":1938,"v":1180},{"s":"PbUV98","yr":1940,"v":1260},{"s":"PbUV98","yr":1942,"v":1350},{"s":"PbUV98","yr":1945,"v":1260},{"s":"PbUV98","yr":1947,"v":2200},{"s":"PbUV98","yr":1948,"v":2500},{"s":"PbUV98","yr":1949,"v":2300},{"s":"PbUV98","yr":1950,"v":2000},{"s":"PbUV98","yr":1952,"v":2400},{"s":"PbUV98","yr":1953,"v":1820},{"s":"PbUV98","yr":1954,"v":1820},{"s":"PbUV98","yr":1956,"v":2000},{"s":"PbUV98","yr":1957,"v":1700},{"s":"PbUV98","yr":1959,"v":1550},{"s":"PbUV98","yr":1961,"v":1500},{"s":"PbUV98","yr":1962,"v":1180},{"s":"PbUV98","yr":1963,"v":1300},{"s":"PbUV98","yr":1965,"v":1820},{"s":"PbUV98","yr":1967,"v":1600},{"s":"PbUV98","yr":1969,"v":1350},{"s":"PbUV98","yr":1971,"v":1220},{"s":"PbUV98","yr":1972,"v":1350},{"s":"PbUV98","yr":1974,"v":1600},{"s":"PbUV98","yr":1975,"v":1400},{"s":"PbUV98","yr":1977,"v":1700},{"s":"PbUV98","yr":1978,"v":2100},{"s":"PbUV98","yr":1979,"v":2500},{"s":"PbUV98","yr":1981,"v":1820},{"s":"PbUV98","yr":1982,"v":1220},{"s":"PbUV98","yr":1983,"v":877},{"s":"PbUV98","yr":1984,"v":743},{"s":"PbUV98","yr":1985,"v":630},{"s":"PbUV98","yr":1986,"v":719},{"s":"PbUV98","yr":1988,"v":1070},{"s":"PbUV98","yr":1989,"v":1100},{"s":"PbUV98","yr":1991,"v":938},{"s":"PbUV98","yr":1992,"v":820},{"s":"PbUV98","yr":1993,"v":767},{"s":"PbUV98","yr":1995,"v":938},{"s":"PbUV98","yr":1996,"v":1000},{"s":"PbUV98","yr":1997,"v":1070},{"s":"PbUV98","yr":1998,"v":938},{"s":"PbUV98","yr":2000,"v":877},{"s":"PbUV98","yr":2002,"v":877},{"s":"PbUV98","yr":2003,"v":877},{"s":"PbUV98","yr":2004,"v":1070},
{"s":"CuUV98","yr":1900,"v":6900},{"s":"CuUV98","yr":1901,"v":6900},{"s":"CuUV98","yr":1902,"v":4800},{"s":"CuUV98","yr":1903,"v":5000},{"s":"CuUV98","yr":1905,"v":5500},{"s":"CuUV98","yr":1906,"v":7100},{"s":"CuUV98","yr":1907,"v":7600},{"s":"CuUV98","yr":1908,"v":5100},{"s":"CuUV98","yr":1910,"v":5000},{"s":"CuUV98","yr":1911,"v":4800},{"s":"CuUV98","yr":1912,"v":6100},{"s":"CuUV98","yr":1914,"v":4800},{"s":"CuUV98","yr":1916,"v":8700},{"s":"CuUV98","yr":1917,"v":7400},{"s":"CuUV98","yr":1918,"v":5300},{"s":"CuUV98","yr":1919,"v":3500},{"s":"CuUV98","yr":1921,"v":2500},{"s":"CuUV98","yr":1922,"v":2800},{"s":"CuUV98","yr":1923,"v":3100},{"s":"CuUV98","yr":1925,"v":2800},{"s":"CuUV98","yr":1927,"v":2700},{"s":"CuUV98","yr":1929,"v":3500},{"s":"CuUV98","yr":1930,"v":2400},{"s":"CuUV98","yr":1932,"v":1550},{"s":"CuUV98","yr":1934,"v":2200},{"s":"CuUV98","yr":1936,"v":2400},{"s":"CuUV98","yr":1937,"v":3300},{"s":"CuUV98","yr":1938,"v":2700},{"s":"CuUV98","yr":1939,"v":2800},{"s":"CuUV98","yr":1940,"v":2700},{"s":"CuUV98","yr":1942,"v":2550},{"s":"CuUV98","yr":1943,"v":2460},{"s":"CuUV98","yr":1945,"v":2300},{"s":"CuUV98","yr":1946,"v":2600},{"s":"CuUV98","yr":1948,"v":3100},{"s":"CuUV98","yr":1950,"v":3300},{"s":"CuUV98","yr":1951,"v":3500},{"s":"CuUV98","yr":1953,"v":3800},{"s":"CuUV98","yr":1955,"v":4600},{"s":"CuUV98","yr":1956,"v":5500},{"s":"CuUV98","yr":1957,"v":3800},{"s":"CuUV98","yr":1958,"v":3300},{"s":"CuUV98","yr":1959,"v":3800},{"s":"CuUV98","yr":1960,"v":3500},{"s":"CuUV98","yr":1962,"v":3500},{"s":"CuUV98","yr":1964,"v":3700},{"s":"CuUV98","yr":1967,"v":3800},{"s":"CuUV98","yr":1968,"v":4200},{"s":"CuUV98","yr":1969,"v":4600},{"s":"CuUV98","yr":1970,"v":5100},{"s":"CuUV98","yr":1972,"v":4500},{"s":"CuUV98","yr":1973,"v":4800},{"s":"CuUV98","yr":1974,"v":5700},{"s":"CuUV98","yr":1975,"v":4300},{"s":"CuUV98","yr":1977,"v":4100},{"s":"CuUV98","yr":1979,"v":4200},{"s":"CuUV98","yr":1980,"v":3800},{"s":"CuUV98","yr":1981,"v":3100},{"s":"CuUV98","yr":1983,"v":3100},{"s":"CuUV98","yr":1985,"v":2700},{"s":"CuUV98","yr":1986,"v":2300},{"s":"CuUV98","yr":1987,"v":2700},{"s":"CuUV98","yr":1988,"v":3400},{"s":"CuUV98","yr":1989,"v":3100},{"s":"CuUV98","yr":1991,"v":2700},{"s":"CuUV98","yr":1992,"v":2550},{"s":"CuUV98","yr":1993,"v":2200},{"s":"CuUV98","yr":1995,"v":3100},{"s":"CuUV98","yr":1996,"v":2400},{"s":"CuUV98","yr":1997,"v":1950},{"s":"CuUV98","yr":1999,"v":1700},{"s":"CuUV98","yr":2000,"v":1800},{"s":"CuUV98","yr":2001,"v":1600},{"s":"CuUV98","yr":2003,"v":1600},{"s":"CuUV98","yr":2004,"v":2400},
{"s":"MgUV98","yr":1915,"v":1.75e5},{"s":"MgUV98","yr":1916,"v":1.29e5},{"s":"MgUV98","yr":1917,"v":5.8e4},{"s":"MgUV98","yr":1918,"v":4.5e4},{"s":"MgUV98","yr":1919,"v":3.4e4},{"s":"MgUV98","yr":1920,"v":2.9e4},{"s":"MgUV98","yr":1921,"v":3.2e4},{"s":"MgUV98","yr":1922,"v":3.3e4},{"s":"MgUV98","yr":1923,"v":2.6e4},{"s":"MgUV98","yr":1925,"v":1.8e4},{"s":"MgUV98","yr":1926,"v":1.5e4},{"s":"MgUV98","yr":1928,"v":1.34e4},{"s":"MgUV98","yr":1929,"v":1.1e4},{"s":"MgUV98","yr":1930,"v":1.06e4},{"s":"MgUV98","yr":1931,"v":6900},{"s":"MgUV98","yr":1933,"v":7600},{"s":"MgUV98","yr":1934,"v":7100},{"s":"MgUV98","yr":1936,"v":6700},{"s":"MgUV98","yr":1937,"v":7400},{"s":"MgUV98","yr":1939,"v":7600},{"s":"MgUV98","yr":1940,"v":6300},{"s":"MgUV98","yr":1942,"v":5100},{"s":"MgUV98","yr":1944,"v":4300},{"s":"MgUV98","yr":1945,"v":3900},{"s":"MgUV98","yr":1947,"v":3400},{"s":"MgUV98","yr":1948,"v":3100},{"s":"MgUV98","yr":1950,"v":3400},{"s":"MgUV98","yr":1953,"v":3700},{"s":"MgUV98","yr":1954,"v":4100},{"s":"MgUV98","yr":1956,"v":4500},{"s":"MgUV98","yr":1957,"v":4500},{"s":"MgUV98","yr":1959,"v":4300},{"s":"MgUV98","yr":1962,"v":4200},{"s":"MgUV98","yr":1965,"v":4100},{"s":"MgUV98","yr":1967,"v":3900},{"s":"MgUV98","yr":1969,"v":3700},{"s":"MgUV98","yr":1971,"v":3400},{"s":"MgUV98","yr":1973,"v":3100},{"s":"MgUV98","yr":1974,"v":5300},{"s":"MgUV98","yr":1975,"v":5500},{"s":"MgUV98","yr":1977,"v":5800},{"s":"MgUV98","yr":1978,"v":5500},{"s":"MgUV98","yr":1980,"v":5100},{"s":"MgUV98","yr":1983,"v":5100},{"s":"MgUV98","yr":1986,"v":4800},{"s":"MgUV98","yr":1989,"v":4600},{"s":"MgUV98","yr":1991,"v":4200},{"s":"MgUV98","yr":1992,"v":3800},{"s":"MgUV98","yr":1993,"v":3700},{"s":"MgUV98","yr":1995,"v":4600},{"s":"MgUV98","yr":1996,"v":4100},{"s":"MgUV98","yr":1998,"v":3400},{"s":"MgUV98","yr":2000,"v":2900},{"s":"MgUV98","yr":2003,"v":2200},{"s":"MgUV98","yr":2004,"v":2900},
{"s":"CrUV98","yr":1900,"v":1090},{"s":"CrUV98","yr":1901,"v":1100},{"s":"CrUV98","yr":1902,"v":938},{"s":"CrUV98","yr":1903,"v":794},{"s":"CrUV98","yr":1904,"v":820},{"s":"CrUV98","yr":1906,"v":743},{"s":"CrUV98","yr":1907,"v":673},{"s":"CrUV98","yr":1908,"v":719},{"s":"CrUV98","yr":1909,"v":630},{"s":"CrUV98","yr":1911,"v":569},{"s":"CrUV98","yr":1912,"v":515},{"s":"CrUV98","yr":1913,"v":482},{"s":"CrUV98","yr":1914,"v":451},{"s":"CrUV98","yr":1915,"v":515},{"s":"CrUV98","yr":1916,"v":695},{"s":"CrUV98","yr":1917,"v":877},{"s":"CrUV98","yr":1918,"v":1260},{"s":"CrUV98","yr":1919,"v":794},{"s":"CrUV98","yr":1920,"v":422},{"s":"CrUV98","yr":1921,"v":248},{"s":"CrUV98","yr":1922,"v":248},{"s":"CrUV98","yr":1923,"v":274},{"s":"CrUV98","yr":1924,"v":265},{"s":"CrUV98","yr":1926,"v":239},{"s":"CrUV98","yr":1929,"v":239},{"s":"CrUV98","yr":1930,"v":324},{"s":"CrUV98","yr":1932,"v":608},{"s":"CrUV98","yr":1933,"v":482},{"s":"CrUV98","yr":1935,"v":515},{"s":"CrUV98","yr":1937,"v":499},{"s":"CrUV98","yr":1939,"v":451},{"s":"CrUV98","yr":1941,"v":451},{"s":"CrUV98","yr":1942,"v":551},{"s":"CrUV98","yr":1944,"v":630},{"s":"CrUV98","yr":1946,"v":515},{"s":"CrUV98","yr":1947,"v":467},{"s":"CrUV98","yr":1949,"v":515},{"s":"CrUV98","yr":1951,"v":551},{"s":"CrUV98","yr":1953,"v":630},{"s":"CrUV98","yr":1954,"v":532},{"s":"CrUV98","yr":1955,"v":673},{"s":"CrUV98","yr":1957,"v":630},{"s":"CrUV98","yr":1958,"v":695},{"s":"CrUV98","yr":1959,"v":719},{"s":"CrUV98","yr":1961,"v":382},{"s":"CrUV98","yr":1962,"v":630},{"s":"CrUV98","yr":1964,"v":630},{"s":"CrUV98","yr":1967,"v":650},{"s":"CrUV98","yr":1968,"v":630},{"s":"CrUV98","yr":1969,"v":589},{"s":"CrUV98","yr":1970,"v":515},{"s":"CrUV98","yr":1971,"v":673},{"s":"CrUV98","yr":1973,"v":769},{"s":"CrUV98","yr":1974,"v":1220},{"s":"CrUV98","yr":1975,"v":1770},{"s":"CrUV98","yr":1976,"v":1450},{"s":"CrUV98","yr":1978,"v":1100},{"s":"CrUV98","yr":1980,"v":1220},{"s":"CrUV98","yr":1981,"v":1260},{"s":"CrUV98","yr":1983,"v":1150},{"s":"CrUV98","yr":1985,"v":1070},{"s":"CrUV98","yr":1986,"v":938},{"s":"CrUV98","yr":1988,"v":1220},{"s":"CrUV98","yr":1989,"v":1600},{"s":"CrUV98","yr":1990,"v":1400},{"s":"CrUV98","yr":1991,"v":1000},{"s":"CrUV98","yr":1992,"v":877},{"s":"CrUV98","yr":1993,"v":769},{"s":"CrUV98","yr":1994,"v":769},{"s":"CrUV98","yr":1995,"v":1220},{"s":"CrUV98","yr":1996,"v":938},{"s":"CrUV98","yr":1997,"v":1000},{"s":"CrUV98","yr":1999,"v":877},{"s":"CrUV98","yr":2000,"v":769},{"s":"CrUV98","yr":2001,"v":743},{"s":"CrUV98","yr":2003,"v":794},{"s":"CrUV98","yr":2004,"v":908},
{"s":"StlUV98","yr":1900,"v":681},{"s":"StlUV98","yr":1901,"v":630},{"s":"StlUV98","yr":1902,"v":650},{"s":"StlUV98","yr":1903,"v":608},{"s":"StlUV98","yr":1904,"v":515},{"s":"StlUV98","yr":1905,"v":589},{"s":"StlUV98","yr":1907,"v":608},{"s":"StlUV98","yr":1908,"v":589},{"s":"StlUV98","yr":1909,"v":532},{"s":"StlUV98","yr":1911,"v":499},{"s":"StlUV98","yr":1913,"v":467},{"s":"StlUV98","yr":1914,"v":422},{"s":"StlUV98","yr":1915,"v":589},{"s":"StlUV98","yr":1916,"v":769},{"s":"StlUV98","yr":1917,"v":938},{"s":"StlUV98","yr":1918,"v":673},{"s":"StlUV98","yr":1919,"v":482},{"s":"StlUV98","yr":1920,"v":394},{"s":"StlUV98","yr":1922,"v":357},{"s":"StlUV98","yr":1923,"v":467},{"s":"StlUV98","yr":1925,"v":422},{"s":"StlUV98","yr":1926,"v":382},{"s":"StlUV98","yr":1929,"v":382},{"s":"StlUV98","yr":1931,"v":382},{"s":"StlUV98","yr":1932,"v":451},{"s":"StlUV98","yr":1934,"v":515},{"s":"StlUV98","yr":1937,"v":608},{"s":"StlUV98","yr":1939,"v":589},{"s":"StlUV98","yr":1940,"v":515},{"s":"StlUV98","yr":1942,"v":499},{"s":"StlUV98","yr":1944,"v":482},{"s":"StlUV98","yr":1947,"v":482},{"s":"StlUV98","yr":1950,"v":532},{"s":"StlUV98","yr":1953,"v":589},{"s":"StlUV98","yr":1955,"v":650},{"s":"StlUV98","yr":1958,"v":719},{"s":"StlUV98","yr":1961,"v":728},{"s":"StlUV98","yr":1964,"v":695},{"s":"StlUV98","yr":1967,"v":673},{"s":"StlUV98","yr":1969,"v":695},{"s":"StlUV98","yr":1972,"v":769},{"s":"StlUV98","yr":1975,"v":877},{"s":"StlUV98","yr":1978,"v":938},{"s":"StlUV98","yr":1981,"v":938},{"s":"StlUV98","yr":1985,"v":908},{"s":"StlUV98","yr":1988,"v":820},{"s":"StlUV98","yr":1991,"v":719},{"s":"StlUV98","yr":1992,"v":630},{"s":"StlUV98","yr":1994,"v":589},{"s":"StlUV98","yr":1995,"v":630},{"s":"StlUV98","yr":1997,"v":650},{"s":"StlUV98","yr":1998,"v":630},{"s":"StlUV98","yr":2000,"v":569},{"s":"StlUV98","yr":2001,"v":515},{"s":"StlUV98","yr":2003,"v":515},{"s":"StlUV98","yr":2004,"v":630},
{"s":"MnUV98","yr":1900,"v":436},{"s":"MnUV98","yr":1901,"v":482},{"s":"MnUV98","yr":1902,"v":499},{"s":"MnUV98","yr":1903,"v":767},{"s":"MnUV98","yr":1904,"v":422},{"s":"MnUV98","yr":1905,"v":630},{"s":"MnUV98","yr":1906,"v":820},{"s":"MnUV98","yr":1907,"v":767},{"s":"MnUV98","yr":1908,"v":482},{"s":"MnUV98","yr":1909,"v":515},{"s":"MnUV98","yr":1911,"v":515},{"s":"MnUV98","yr":1912,"v":422},{"s":"MnUV98","yr":1913,"v":436},{"s":"MnUV98","yr":1915,"v":422},{"s":"MnUV98","yr":1916,"v":695},{"s":"MnUV98","yr":1917,"v":608},{"s":"MnUV98","yr":1918,"v":767},{"s":"MnUV98","yr":1919,"v":767},{"s":"MnUV98","yr":1920,"v":482},{"s":"MnUV98","yr":1921,"v":166},{"s":"MnUV98","yr":1922,"v":283},{"s":"MnUV98","yr":1923,"v":382},{"s":"MnUV98","yr":1924,"v":334},{"s":"MnUV98","yr":1925,"v":357},{"s":"MnUV98","yr":1927,"v":324},{"s":"MnUV98","yr":1929,"v":345},{"s":"MnUV98","yr":1930,"v":334},{"s":"MnUV98","yr":1931,"v":274},{"s":"MnUV98","yr":1932,"v":394},{"s":"MnUV98","yr":1933,"v":451},{"s":"MnUV98","yr":1934,"v":357},{"s":"MnUV98","yr":1936,"v":357},{"s":"MnUV98","yr":1937,"v":303},{"s":"MnUV98","yr":1939,"v":394},{"s":"MnUV98","yr":1940,"v":357},{"s":"MnUV98","yr":1942,"v":334},{"s":"MnUV98","yr":1944,"v":407},{"s":"MnUV98","yr":1945,"v":436},{"s":"MnUV98","yr":1947,"v":369},{"s":"MnUV98","yr":1948,"v":357},{"s":"MnUV98","yr":1950,"v":394},{"s":"MnUV98","yr":1952,"v":451},{"s":"MnUV98","yr":1953,"v":532},{"s":"MnUV98","yr":1954,"v":499},{"s":"MnUV98","yr":1956,"v":551},{"s":"MnUV98","yr":1957,"v":650},{"s":"MnUV98","yr":1959,"v":569},{"s":"MnUV98","yr":1960,"v":515},{"s":"MnUV98","yr":1962,"v":422},{"s":"MnUV98","yr":1964,"v":394},{"s":"MnUV98","yr":1967,"v":382},{"s":"MnUV98","yr":1968,"v":357},{"s":"MnUV98","yr":1970,"v":283},{"s":"MnUV98","yr":1972,"v":292},{"s":"MnUV98","yr":1973,"v":345},{"s":"MnUV98","yr":1974,"v":515},{"s":"MnUV98","yr":1976,"v":673},{"s":"MnUV98","yr":1978,"v":695},{"s":"MnUV98","yr":1980,"v":673},{"s":"MnUV98","yr":1981,"v":630},{"s":"MnUV98","yr":1983,"v":569},{"s":"MnUV98","yr":1985,"v":551},{"s":"MnUV98","yr":1987,"v":589},{"s":"MnUV98","yr":1988,"v":650},{"s":"MnUV98","yr":1990,"v":769},{"s":"MnUV98","yr":1992,"v":820},{"s":"MnUV98","yr":1993,"v":673},{"s":"MnUV98","yr":1995,"v":608},{"s":"MnUV98","yr":1997,"v":630},{"s":"MnUV98","yr":1998,"v":551},{"s":"MnUV98","yr":2000,"v":515},{"s":"MnUV98","yr":2002,"v":422},{"s":"MnUV98","yr":2003,"v":499},{"s":"MnUV98","yr":2004,"v":673},
{"s":"SiUV98","yr":1923,"v":849},{"s":"SiUV98","yr":1925,"v":1150},{"s":"SiUV98","yr":1926,"v":938},{"s":"SiUV98","yr":1927,"v":1180},{"s":"SiUV98","yr":1929,"v":1300},{"s":"SiUV98","yr":1931,"v":1450},{"s":"SiUV98","yr":1933,"v":1700},{"s":"SiUV98","yr":1936,"v":1700},{"s":"SiUV98","yr":1938,"v":2460},{"s":"SiUV98","yr":1940,"v":2700},{"s":"SiUV98","yr":1941,"v":1500},{"s":"SiUV98","yr":1942,"v":1400},{"s":"SiUV98","yr":1944,"v":1770},{"s":"SiUV98","yr":1945,"v":1260},{"s":"SiUV98","yr":1947,"v":2100},{"s":"SiUV98","yr":1948,"v":2200},{"s":"SiUV98","yr":1950,"v":1600},{"s":"SiUV98","yr":1952,"v":1550},{"s":"SiUV98","yr":1953,"v":2400},{"s":"SiUV98","yr":1954,"v":2200},{"s":"SiUV98","yr":1956,"v":2200},{"s":"SiUV98","yr":1957,"v":2700},{"s":"SiUV98","yr":1959,"v":1800},{"s":"SiUV98","yr":1960,"v":1700},{"s":"SiUV98","yr":1962,"v":2400},{"s":"SiUV98","yr":1964,"v":2200},{"s":"SiUV98","yr":1967,"v":1800},{"s":"SiUV98","yr":1969,"v":1700},{"s":"SiUV98","yr":1971,"v":1600},{"s":"SiUV98","yr":1973,"v":1600},{"s":"SiUV98","yr":1974,"v":2500},{"s":"SiUV98","yr":1975,"v":2200},{"s":"SiUV98","yr":1977,"v":1950},{"s":"SiUV98","yr":1979,"v":1800},{"s":"SiUV98","yr":1981,"v":1600},{"s":"SiUV98","yr":1983,"v":1500},{"s":"SiUV98","yr":1985,"v":1400},{"s":"SiUV98","yr":1986,"v":1450},{"s":"SiUV98","yr":1988,"v":1600},{"s":"SiUV98","yr":1990,"v":1350},{"s":"SiUV98","yr":1991,"v":1220},{"s":"SiUV98","yr":1993,"v":1150},{"s":"SiUV98","yr":1994,"v":1220},{"s":"SiUV98","yr":1996,"v":1400},{"s":"SiUV98","yr":1997,"v":1220},{"s":"SiUV98","yr":1999,"v":1150},{"s":"SiUV98","yr":2000,"v":1070},{"s":"SiUV98","yr":2002,"v":1000},{"s":"SiUV98","yr":2003,"v":1070},{"s":"SiUV98","yr":2004,"v":1300},
{"s":"WUV98","yr":1900,"v":10600},{"s":"WUV98","yr":1901,"v":7100},{"s":"WUV98","yr":1902,"v":7600},{"s":"WUV98","yr":1903,"v":6100},{"s":"WUV98","yr":1904,"v":9000},{"s":"WUV98","yr":1905,"v":13400},{"s":"WUV98","yr":1907,"v":20700},{"s":"WUV98","yr":1908,"v":14400},{"s":"WUV98","yr":1909,"v":16400},{"s":"WUV98","yr":1911,"v":15900},{"s":"WUV98","yr":1914,"v":15900},{"s":"WUV98","yr":1915,"v":66000},{"s":"WUV98","yr":1916,"v":67000},{"s":"WUV98","yr":1917,"v":39000},{"s":"WUV98","yr":1918,"v":33000},{"s":"WUV98","yr":1919,"v":20000},{"s":"WUV98","yr":1920,"v":8700},{"s":"WUV98","yr":1921,"v":11000},{"s":"WUV98","yr":1922,"v":12000},{"s":"WUV98","yr":1923,"v":14000},{"s":"WUV98","yr":1924,"v":13000},{"s":"WUV98","yr":1926,"v":13400},{"s":"WUV98","yr":1927,"v":13000},{"s":"WUV98","yr":1929,"v":17000},{"s":"WUV98","yr":1930,"v":17500},{"s":"WUV98","yr":1931,"v":15900},{"s":"WUV98","yr":1932,"v":14400},{"s":"WUV98","yr":1934,"v":28000},{"s":"WUV98","yr":1936,"v":23000},{"s":"WUV98","yr":1937,"v":30000},{"s":"WUV98","yr":1939,"v":27000},{"s":"WUV98","yr":1941,"v":33000},{"s":"WUV98","yr":1942,"v":34000},{"s":"WUV98","yr":1945,"v":30000},{"s":"WUV98","yr":1947,"v":23000},{"s":"WUV98","yr":1948,"v":21400},{"s":"WUV98","yr":1949,"v":28000},{"s":"WUV98","yr":1951,"v":51000},{"s":"WUV98","yr":1953,"v":53000},{"s":"WUV98","yr":1955,"v":51000},{"s":"WUV98","yr":1956,"v":48000},{"s":"WUV98","yr":1957,"v":24500},{"s":"WUV98","yr":1958,"v":14400},{"s":"WUV98","yr":1959,"v":16400},{"s":"WUV98","yr":1962,"v":16400},{"s":"WUV98","yr":1965,"v":23000},{"s":"WUV98","yr":1967,"v":23000},{"s":"WUV98","yr":1969,"v":21400},{"s":"WUV98","yr":1972,"v":23000},{"s":"WUV98","yr":1974,"v":30000},{"s":"WUV98","yr":1977,"v":54000},{"s":"WUV98","yr":1978,"v":39000},{"s":"WUV98","yr":1980,"v":36500},{"s":"WUV98","yr":1981,"v":26000},{"s":"WUV98","yr":1983,"v":17500},{"s":"WUV98","yr":1985,"v":16400},{"s":"WUV98","yr":1986,"v":12600},{"s":"WUV98","yr":1988,"v":10300},{"s":"WUV98","yr":1989,"v":13400},{"s":"WUV98","yr":1991,"v":10300},{"s":"WUV98","yr":1992,"v":9000},{"s":"WUV98","yr":1994,"v":8400},{"s":"WUV98","yr":1995,"v":8200},{"s":"WUV98","yr":1997,"v":7400},{"s":"WUV98","yr":1998,"v":7400},{"s":"WUV98","yr":1999,"v":6500},{"s":"WUV98","yr":2000,"v":11000},{"s":"WUV98","yr":2001,"v":9000},{"s":"WUV98","yr":2003,"v":8200},{"s":"WUV98","yr":2004,"v":9300},
{"s":"NbUV98","yr":1960,"v":13400},{"s":"NbUV98","yr":1964,"v":13400},{"s":"NbUV98","yr":1966,"v":15000},{"s":"NbUV98","yr":1967,"v":13400},{"s":"NbUV98","yr":1969,"v":13400},{"s":"NbUV98","yr":1970,"v":14400},{"s":"NbUV98","yr":1972,"v":14900},{"s":"NbUV98","yr":1974,"v":15900},{"s":"NbUV98","yr":1975,"v":17000},{"s":"NbUV98","yr":1977,"v":20000},{"s":"NbUV98","yr":1978,"v":28000},{"s":"NbUV98","yr":1979,"v":46000},{"s":"NbUV98","yr":1981,"v":34000},{"s":"NbUV98","yr":1982,"v":28000},{"s":"NbUV98","yr":1983,"v":21400},{"s":"NbUV98","yr":1985,"v":17500},{"s":"NbUV98","yr":1986,"v":10300},{"s":"NbUV98","yr":1988,"v":10300},{"s":"NbUV98","yr":1989,"v":12600},{"s":"NbUV98","yr":1991,"v":11000},{"s":"NbUV98","yr":1992,"v":9600},{"s":"NbUV98","yr":1994,"v":9000},{"s":"NbUV98","yr":1995,"v":9400},{"s":"NbUV98","yr":1997,"v":9400},{"s":"NbUV98","yr":1999,"v":9400},{"s":"NbUV98","yr":2000,"v":17500},
{"s":"ScrpUV98","yr":1934,"v":127},{"s":"ScrpUV98","yr":1935,"v":132},{"s":"ScrpUV98","yr":1937,"v":196},{"s":"ScrpUV98","yr":1938,"v":150},{"s":"ScrpUV98","yr":1940,"v":203},{"s":"ScrpUV98","yr":1941,"v":203},{"s":"ScrpUV98","yr":1942,"v":190},{"s":"ScrpUV98","yr":1943,"v":172},{"s":"ScrpUV98","yr":1944,"v":166},{"s":"ScrpUV98","yr":1946,"v":161},{"s":"ScrpUV98","yr":1947,"v":248},{"s":"ScrpUV98","yr":1948,"v":274},{"s":"ScrpUV98","yr":1949,"v":184},{"s":"ScrpUV98","yr":1950,"v":232},{"s":"ScrpUV98","yr":1952,"v":248},{"s":"ScrpUV98","yr":1953,"v":240},{"s":"ScrpUV98","yr":1954,"v":172},{"s":"ScrpUV98","yr":1955,"v":257},{"s":"ScrpUV98","yr":1957,"v":248},{"s":"ScrpUV98","yr":1958,"v":203},{"s":"ScrpUV98","yr":1959,"v":203},{"s":"ScrpUV98","yr":1960,"v":172},{"s":"ScrpUV98","yr":1961,"v":184},{"s":"ScrpUV98","yr":1963,"v":136},{"s":"ScrpUV98","yr":1964,"v":184},{"s":"ScrpUV98","yr":1965,"v":175},{"s":"ScrpUV98","yr":1968,"v":115},{"s":"ScrpUV98","yr":1969,"v":125},{"s":"ScrpUV98","yr":1970,"v":177},{"s":"ScrpUV98","yr":1971,"v":132},{"s":"ScrpUV98","yr":1972,"v":136},{"s":"ScrpUV98","yr":1973,"v":155},{"s":"ScrpUV98","yr":1974,"v":334},{"s":"ScrpUV98","yr":1975,"v":216},{"s":"ScrpUV98","yr":1977,"v":166},{"s":"ScrpUV98","yr":1979,"v":209},{"s":"ScrpUV98","yr":1981,"v":155},{"s":"ScrpUV98","yr":1982,"v":104},{"s":"ScrpUV98","yr":1984,"v":127},{"s":"ScrpUV98","yr":1985,"v":104},{"s":"ScrpUV98","yr":1986,"v":108},{"s":"ScrpUV98","yr":1988,"v":145},{"s":"ScrpUV98","yr":1990,"v":132},{"s":"ScrpUV98","yr":1992,"v":94},{"s":"ScrpUV98","yr":1993,"v":132},{"s":"ScrpUV98","yr":1995,"v":145},{"s":"ScrpUV98","yr":1997,"v":127},{"s":"ScrpUV98","yr":1999,"v":91},{"s":"ScrpUV98","yr":2000,"v":85},{"s":"ScrpUV98","yr":2001,"v":68},{"s":"ScrpUV98","yr":2003,"v":98},{"s":"ScrpUV98","yr":2004,"v":166},
{"s":"FeOreUV98","yr":1900,"v":45},{"s":"FeOreUV98","yr":1901,"v":34},{"s":"FeOreUV98","yr":1903,"v":34},{"s":"FeOreUV98","yr":1904,"v":28},{"s":"FeOreUV98","yr":1906,"v":35},{"s":"FeOreUV98","yr":1907,"v":43},{"s":"FeOreUV98","yr":1909,"v":37},{"s":"FeOreUV98","yr":1910,"v":43},{"s":"FeOreUV98","yr":1912,"v":32},{"s":"FeOreUV98","yr":1913,"v":35},{"s":"FeOreUV98","yr":1914,"v":29},{"s":"FeOreUV98","yr":1915,"v":29},{"s":"FeOreUV98","yr":1917,"v":40},{"s":"FeOreUV98","yr":1918,"v":35},{"s":"FeOreUV98","yr":1919,"v":30},{"s":"FeOreUV98","yr":1920,"v":32},{"s":"FeOreUV98","yr":1921,"v":28},{"s":"FeOreUV98","yr":1922,"v":32},{"s":"FeOreUV98","yr":1923,"v":32},{"s":"FeOreUV98","yr":1925,"v":23.5},{"s":"FeOreUV98","yr":1926,"v":22.5},{"s":"FeOreUV98","yr":1928,"v":24},{"s":"FeOreUV98","yr":1930,"v":24},{"s":"FeOreUV98","yr":1931,"v":25.5},{"s":"FeOreUV98","yr":1932,"v":15.5},{"s":"FeOreUV98","yr":1933,"v":47},{"s":"FeOreUV98","yr":1934,"v":33},{"s":"FeOreUV98","yr":1936,"v":31},{"s":"FeOreUV98","yr":1937,"v":30},{"s":"FeOreUV98","yr":1938,"v":29},{"s":"FeOreUV98","yr":1939,"v":35},{"s":"FeOreUV98","yr":1940,"v":29},{"s":"FeOreUV98","yr":1942,"v":25},{"s":"FeOreUV98","yr":1944,"v":24},{"s":"FeOreUV98","yr":1948,"v":25},{"s":"FeOreUV98","yr":1949,"v":29},{"s":"FeOreUV98","yr":1951,"v":35},{"s":"FeOreUV98","yr":1953,"v":40},{"s":"FeOreUV98","yr":1955,"v":42},{"s":"FeOreUV98","yr":1958,"v":47},{"s":"FeOreUV98","yr":1960,"v":43},{"s":"FeOreUV98","yr":1961,"v":47},{"s":"FeOreUV98","yr":1964,"v":47},{"s":"FeOreUV98","yr":1968,"v":43},{"s":"FeOreUV98","yr":1970,"v":42},{"s":"FeOreUV98","yr":1973,"v":49},{"s":"FeOreUV98","yr":1974,"v":50},{"s":"FeOreUV98","yr":1976,"v":61},{"s":"FeOreUV98","yr":1979,"v":70},{"s":"FeOreUV98","yr":1982,"v":65},{"s":"FeOreUV98","yr":1983,"v":75},{"s":"FeOreUV98","yr":1986,"v":53},{"s":"FeOreUV98","yr":1988,"v":38},{"s":"FeOreUV98","yr":1989,"v":40},{"s":"FeOreUV98","yr":1991,"v":35},{"s":"FeOreUV98","yr":1993,"v":28},{"s":"FeOreUV98","yr":1994,"v":27},{"s":"FeOreUV98","yr":1996,"v":29},{"s":"FeOreUV98","yr":1998,"v":31},{"s":"FeOreUV98","yr":1999,"v":24},{"s":"FeOreUV98","yr":2001,"v":22.5},{"s":"FeOreUV98","yr":2003,"v":26},{"s":"FeOreUV98","yr":2004,"v":30},
{"s":"SlgUV98","yr":1941,"v":8.5},{"s":"SlgUV98","yr":1942,"v":8.3},{"s":"SlgUV98","yr":1944,"v":8.9},{"s":"SlgUV98","yr":1947,"v":8.6},{"s":"SlgUV98","yr":1948,"v":8.3},{"s":"SlgUV98","yr":1950,"v":9.5},{"s":"SlgUV98","yr":1951,"v":9.5},{"s":"SlgUV98","yr":1953,"v":9.5},{"s":"SlgUV98","yr":1954,"v":9.8},{"s":"SlgUV98","yr":1955,"v":10.5},{"s":"SlgUV98","yr":1956,"v":10.2},{"s":"SlgUV98","yr":1957,"v":10.8},{"s":"SlgUV98","yr":1958,"v":8.9},{"s":"SlgUV98","yr":1959,"v":11.2},{"s":"SlgUV98","yr":1962,"v":11.2},{"s":"SlgUV98","yr":1964,"v":11.2},{"s":"SlgUV98","yr":1965,"v":10.5},{"s":"SlgUV98","yr":1966,"v":8.9},{"s":"SlgUV98","yr":1968,"v":8.6},{"s":"SlgUV98","yr":1970,"v":8.0},{"s":"SlgUV98","yr":1971,"v":8.6},{"s":"SlgUV98","yr":1973,"v":8.6},{"s":"SlgUV98","yr":1974,"v":7.8},{"s":"SlgUV98","yr":1976,"v":8.3},{"s":"SlgUV98","yr":1979,"v":8.0},{"s":"SlgUV98","yr":1980,"v":8.9},{"s":"SlgUV98","yr":1982,"v":8.0},{"s":"SlgUV98","yr":1984,"v":8.9},{"s":"SlgUV98","yr":1986,"v":9.2},{"s":"SlgUV98","yr":1988,"v":8.3},{"s":"SlgUV98","yr":1989,"v":7.8},{"s":"SlgUV98","yr":1990,"v":6.9},{"s":"SlgUV98","yr":1991,"v":7.7},{"s":"SlgUV98","yr":1993,"v":7.3},{"s":"SlgUV98","yr":1995,"v":7.5},{"s":"SlgUV98","yr":1996,"v":6.9},{"s":"SlgUV98","yr":1997,"v":7.0},{"s":"SlgUV98","yr":1998,"v":8.0},{"s":"SlgUV98","yr":2000,"v":7.8},{"s":"SlgUV98","yr":2001,"v":7.0},{"s":"SlgUV98","yr":2002,"v":13.7},{"s":"SlgUV98","yr":2003,"v":13.2},{"s":"SlgUV98","yr":2004,"v":13.2}
]},
"mark":{"type":"line","strokeWidth":1.5,"clip":true},
"encoding":{
"x":{"field":"yr","type":"quantitative","scale":{"domain":[1890,2010],"nice":false,"zero":false},
"axis":{"values":[1890,1891,1892,1893,1894,1895,1896,1897,1898,1899,1900,1901,1902,1903,1904,1905,1906,1907,1908,1909,1910,1911,1912,1913,1914,1915,1916,1917,1918,1919,1920,1921,1922,1923,1924,1925,1926,1927,1928,1929,1930,1931,1932,1933,1934,1935,1936,1937,1938,1939,1940,1941,1942,1943,1944,1945,1946,1947,1948,1949,1950,1951,1952,1953,1954,1955,1956,1957,1958,1959,1960,1961,1962,1963,1964,1965,1966,1967,1968,1969,1970,1971,1972,1973,1974,1975,1976,1977,1978,1979,1980,1981,1982,1983,1984,1985,1986,1987,1988,1989,1990,1991,1992,1993,1994,1995,1996,1997,1998,1999,2000,2001,2002,2003,2004,2005,2006,2007,2008,2009,2010],
"tickCount":1000,
"labelExpr":"datum.value % 10 === 0 ? toString(datum.value) : ''",
"tickSize":{"condition":{"test":"datum.value % 10 === 0","value":19},"value":9},
"tickWidth":2,"tickColor":"black","domainWidth":3,"domainColor":"black","grid":false,
"labelFont":"Liberation Sans","labelFontSize":20,"labelColor":"#444444","labelPadding":12,"labelFlush":false,"labelOverlap":false,"labelBound":false,
"title":"Year","titleFont":"Liberation Sans","titleFontSize":54,"titleFontWeight":"normal","titleColor":"black","titleX":731,"titleY":113,"titleBaseline":"alphabetic","titleAlign":"center"}},
"y":{"field":"v","type":"quantitative","scale":{"type":"log","domain":[1,4.98e7],"nice":false},
"axis":{"values":[1,2,3,4,5,6,7,8,9,10,20,30,40,50,60,70,80,90,100,200,300,400,500,600,700,800,900,1000,2000,3000,4000,5000,6000,7000,8000,9000,10000,20000,30000,40000,50000,60000,70000,80000,90000,100000,200000,300000,400000,500000,600000,700000,800000,900000,1000000,2000000,3000000,4000000,5000000,6000000,7000000,8000000,9000000,10000000,20000000,30000000,40000000],
"tickCount":1000,
"labelExpr":"abs(log(datum.value)/LN10 - round(log(datum.value)/LN10)) < 0.01 ? '10' + substring('⁰¹²³⁴⁵⁶⁷', round(log(datum.value)/LN10), round(log(datum.value)/LN10) + 1) : ''",
"tickSize":{"condition":{"test":"abs(log(datum.value)/LN10 - round(log(datum.value)/LN10)) < 0.01","value":8},"value":4},
"tickWidth":2,"tickColor":"black","domainWidth":3,"domainColor":"black","grid":false,
"labelFont":"Liberation Sans","labelFontSize":24,"labelColor":"#555555","labelPadding":-4,"labelFlush":false,"labelOverlap":false,"labelBound":false,
"title":"1998 Dollars per Metric Ton","titleFont":"Liberation Sans","titleFontSize":63,"titleFontWeight":"normal","titleColor":"black","titleX":-127,"titleY":457,"titleAngle":270,"titleBaseline":"alphabetic","titleAlign":"center"}},
"color":{"field":"s","type":"nominal",
"scale":{"domain":["AlUV98","MoUV98","CdUV98","NiUV98","CrUV98","NbUV98","CoUV98"," ","CuUV98","ReUV98","AuUV98","SiUV98","FeOreUV98","  ","StlUV98","TaUV98","ScrpUV98","TlUV98","SlgUV98","WUV98","PbUV98","VUV98","MgUV98","ZnUV98","MnUV98","AgUV98","PGMUV98","   ","    ","     ","      ","       "],
"range":["#2e2e2e","#3535a8","#c42222","#e0922e","#3cc03c","#8a3c9c","#1e1a48","#ffffff","#30d8e0","#ffffff","#cc33cc","#c4c4c4","#eded1e","#ffffff","#857a30","#ffffa8","#303078","#aaf0f0","#5c2c6c","#eca0ec","#5c2c2c","#666666","#2a8a2a","#111111","#2a7a7a","#8e8e8e","#e01860","#ffffff","#ffffff","#ffffff","#ffffff","#ffffff"]},
"legend":{"orient":"none","legendX":1238,"legendY":2,"direction":"horizontal","columns":2,"symbolType":"stroke","symbolSize":1764,"symbolStrokeWidth":2.5,"symbolLimit":40,
"labelFont":"Liberation Sans","labelFontSize":21,"labelColor":"black","labelOffset":5,"labelLimit":300,
"rowPadding":15,"columnPadding":0,"padding":10,"strokeColor":"black","fillColor":"white",
"title":" ","titleFontSize":10,"titlePadding":96}}
}},
{"data":{"values":[{"yr":1895.04,"v":6.45,"t":"Inflation Adjusted"}]},
"mark":{"type":"text","align":"left","baseline":"alphabetic","font":"Liberation Sans","fontWeight":"bold","fontSize":63,"color":"#0636e0"},
"encoding":{"x":{"field":"yr","type":"quantitative"},"y":{"field":"v","type":"quantitative"},"text":{"field":"t","type":"nominal"}}}
]
}
